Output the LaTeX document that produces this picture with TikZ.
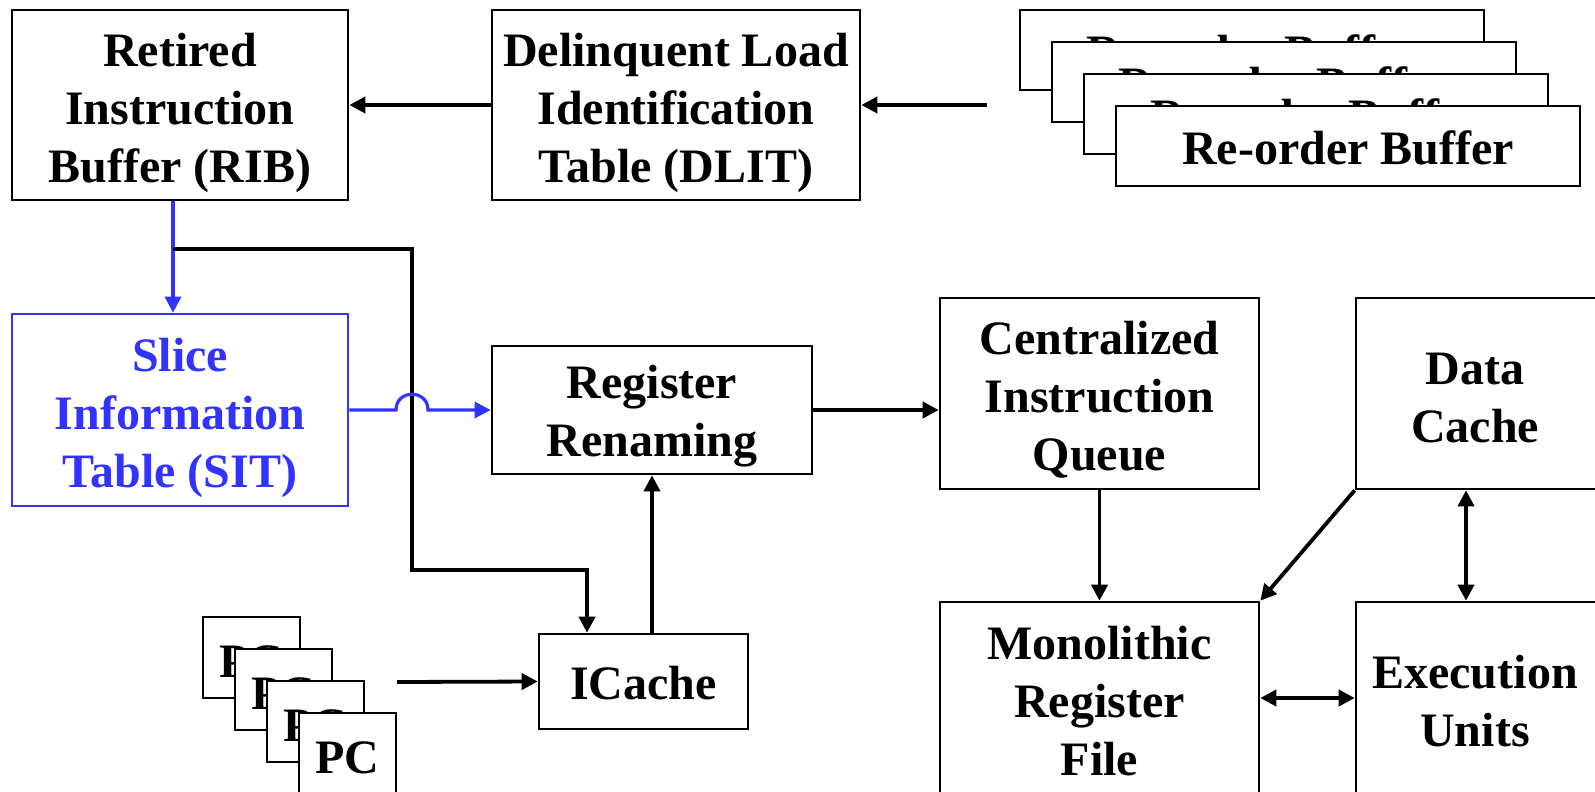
\documentclass[tikz,border=0pt]{standalone}
\usepackage{fontspec}
\setmainfont{Liberation Serif}
\usetikzlibrary{arrows.meta}
\definecolor{sliceblue}{RGB}{51,51,255}
\tikzset{
  box/.style={draw, line width=2.6pt, fill=white, inner sep=0pt},
  txt/.style={align=center, inner sep=0pt, font=\bfseries\fontsize{48}{58}\selectfont},
  tip/.tip={Triangle[length=16pt,width=16pt]},
  arr/.style={line width=3.8pt, -tip},
  dbl/.style={line width=3.8pt, tip-tip},
  bluearr/.style={line width=3.2pt, sliceblue, -tip},
}
\begin{document}
\begin{tikzpicture}[x=1pt,y=-1pt]
\useasboundingbox (0,0) rectangle (1595,792);
\clip (0,0) rectangle (1595,792);

% top row
\node[box, minimum width=336, minimum height=190,
  label={[txt,yshift=-8pt]center:Retired\\Instruction\\Buffer (RIB)}] (RIB) at (180,105) {};
\node[box, minimum width=368, minimum height=190,
  label={[txt,yshift=-8pt]center:Delinquent Load\\Identification\\Table (DLIT)}] (DLIT) at (676,105) {};

% stacked re-order buffers
\node[box, minimum width=464, minimum height=80,
  label={[txt,yshift=-2pt]center:Re-order Buffer}] (ROBa) at (1252,50) {};
\node[box, minimum width=464, minimum height=80,
  label={[txt,yshift=-2pt]center:Re-order Buffer}] (ROBb) at (1284,82) {};
\node[box, minimum width=464, minimum height=80,
  label={[txt,yshift=-2pt]center:Re-order Buffer}] (ROBc) at (1316,114) {};
\node[box, minimum width=464, minimum height=80,
  label={[txt,yshift=-2pt]center:Re-order Buffer}] (ROBd) at (1348,146) {};

% middle row
\node[box, draw=sliceblue, minimum width=336, minimum height=192,
  label={[txt,text=sliceblue,yshift=-8pt]center:Slice\\Information\\Table (SIT)}] (SIT) at (180,410) {};
\node[box, minimum width=320, minimum height=128,
  label={[txt,yshift=-6pt]center:Register\\Renaming}] (RR) at (652,410) {};
\node[box, minimum width=319, minimum height=191,
  label={[txt,yshift=-6pt]center:Centralized\\Instruction\\Queue}] (CIQ) at (1099.5,393.5) {};
\node[box, minimum width=244, minimum height=191,
  label={[txt,yshift=-5pt,xshift=-3pt]center:Data\\Cache}] (DC) at (1478,393.5) {};

% bottom row
\node[box, minimum width=209, minimum height=95,
  label={[txt,yshift=-2pt]center:ICache}] (IC) at (643.5,681.5) {};
\node[box, minimum width=319, minimum height=198,
  label={[txt]center:Monolithic\\Register\\File}] (MRF) at (1099.5,701) {};
\node[box, minimum width=244, minimum height=198,
  label={[txt,xshift=-3pt]center:Execution\\Units}] (EU) at (1478,701) {};

% stacked program counters
\node[box, minimum width=97, minimum height=81,
  label={[txt,yshift=-4pt]center:PC}] (PCa) at (251.5,657.5) {};
\node[box, minimum width=97, minimum height=81,
  label={[txt,yshift=-4pt]center:PC}] (PCb) at (283.5,689.5) {};
\node[box, minimum width=97, minimum height=81,
  label={[txt,yshift=-4pt]center:PC}] (PCc) at (315.5,721.5) {};
\node[box, minimum width=97, minimum height=81,
  label={[txt,yshift=-4pt]center:PC}] (PCd) at (347.5,753.5) {};

% free connector ends
\coordinate (robout) at (987,105);
\coordinate (pcout) at (397,682);
\coordinate (split) at (173,249);

% connectors
\draw[arr] (robout) -- (DLIT.east);
\draw[arr] (DLIT.west) -- (RIB.east);
\draw[bluearr] ([xshift=-7pt]RIB.south) -- ([xshift=-7pt]SIT.north);
\draw[arr] (split) -- (412,249) -- (412,570) -- (587,570) -- ([xshift=-56.5pt]IC.north);
\draw[bluearr] (SIT.east) -- (396,410) .. controls (396,389) and (428,389) .. (428,410) -- (RR.west);
\draw[arr] (IC.north -| RR.south) -- (RR.south);
\draw[arr] (pcout) -- (IC.west);
\draw[arr] (RR.east) -- (RR.east -| CIQ.west);
\draw[arr] (CIQ.south) -- (MRF.north);
\draw[arr] (DC.south west) -- (MRF.north east);
\draw[dbl] ([xshift=-12pt]DC.south) -- ([xshift=-12pt]EU.north);
\draw[dbl] ([yshift=3pt]MRF.east) -- ([yshift=3pt]EU.west);
\end{tikzpicture}
\end{document}
